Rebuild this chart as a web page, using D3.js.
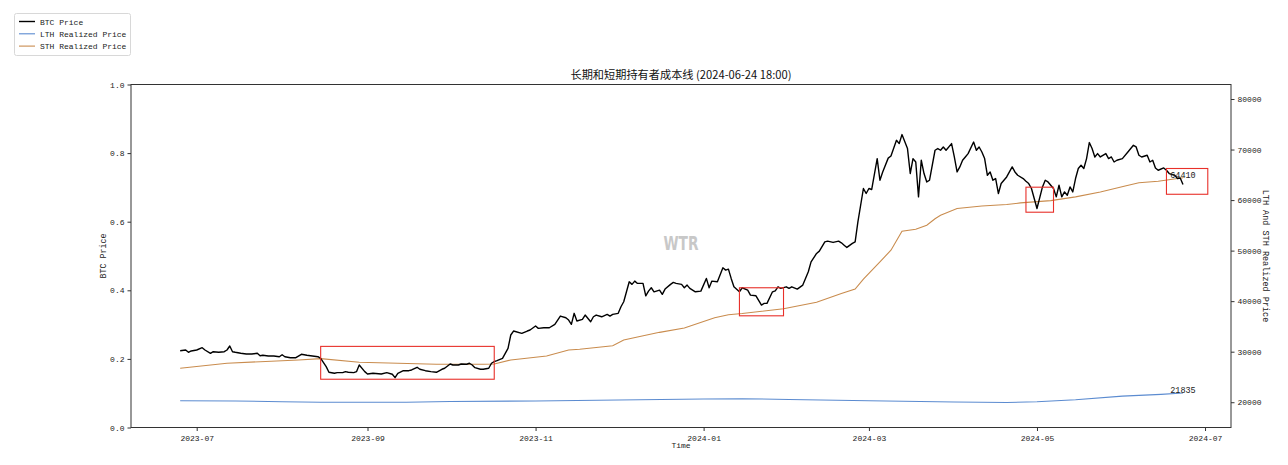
<!DOCTYPE html>
<html><head><meta charset="utf-8">
<script src="https://cdn.jsdelivr.net/npm/d3@7/dist/d3.min.js"></script>
<style>
html,body{margin:0;padding:0;background:#fff;}
svg{display:block;}
.tick text{font-family:"Liberation Mono","DejaVu Sans Mono",monospace;fill:#222;}
</style></head>
<body>
<svg id="chart" width="1288" height="465"></svg>
<script>
// ---------------- data ----------------
const titleText = "长期和短期持有者成本线 (2024-06-24 18:00)";
const seriesNames = ["BTC Price", "LTH Realized Price", "STH Realized Price"];
const leftTicks = [0.0, 0.2, 0.4, 0.6, 0.8, 1.0];
const rightTicks = [20000, 30000, 40000, 50000, 60000, 70000, 80000];

const btcDates = ["2023-06-25","2023-06-27","2023-06-28","2023-06-29","2023-07-01","2023-07-03","2023-07-04","2023-07-06","2023-07-07","2023-07-09","2023-07-11","2023-07-12","2023-07-13","2023-07-14","2023-07-15","2023-07-17","2023-07-19","2023-07-21","2023-07-23","2023-07-24","2023-07-25","2023-07-27","2023-07-29","2023-07-31","2023-08-01","2023-08-02","2023-08-04","2023-08-06","2023-08-08","2023-08-10","2023-08-12","2023-08-14","2023-08-15","2023-08-17","2023-08-18","2023-08-20","2023-08-21","2023-08-23","2023-08-24","2023-08-25","2023-08-27","2023-08-28","2023-08-29","2023-08-31","2023-09-01","2023-09-03","2023-09-06","2023-09-08","2023-09-10","2023-09-11","2023-09-12","2023-09-14","2023-09-16","2023-09-17","2023-09-19","2023-09-20","2023-09-22","2023-09-24","2023-09-26","2023-09-28","2023-09-29","2023-10-01","2023-10-02","2023-10-04","2023-10-05","2023-10-07","2023-10-08","2023-10-09","2023-10-10","2023-10-12","2023-10-13","2023-10-15","2023-10-16","2023-10-17","2023-10-18","2023-10-20","2023-10-21","2023-10-22","2023-10-23","2023-10-24","2023-10-27","2023-10-29","2023-10-30","2023-11-01","2023-11-02","2023-11-04","2023-11-06","2023-11-08","2023-11-10","2023-11-12","2023-11-13","2023-11-14","2023-11-15","2023-11-16","2023-11-18","2023-11-19","2023-11-21","2023-11-22","2023-11-23","2023-11-25","2023-11-27","2023-11-28","2023-11-29","2023-12-01","2023-12-02","2023-12-03","2023-12-04","2023-12-05","2023-12-06","2023-12-07","2023-12-08","2023-12-10","2023-12-11","2023-12-12","2023-12-13","2023-12-14","2023-12-16","2023-12-17","2023-12-18","2023-12-20","2023-12-21","2023-12-22","2023-12-24","2023-12-25","2023-12-26","2023-12-27","2023-12-29","2023-12-31","2024-01-02","2024-01-03","2024-01-04","2024-01-06","2024-01-08","2024-01-09","2024-01-10","2024-01-11","2024-01-12","2024-01-14","2024-01-15","2024-01-17","2024-01-18","2024-01-20","2024-01-22","2024-01-23","2024-01-24","2024-01-26","2024-01-27","2024-01-28","2024-01-29","2024-01-31","2024-02-01","2024-02-02","2024-02-04","2024-02-06","2024-02-08","2024-02-09","2024-02-11","2024-02-12","2024-02-14","2024-02-15","2024-02-17","2024-02-19","2024-02-20","2024-02-21","2024-02-22","2024-02-24","2024-02-25","2024-02-26","2024-02-28","2024-02-29","2024-03-01","2024-03-02","2024-03-04","2024-03-05","2024-03-06","2024-03-08","2024-03-09","2024-03-11","2024-03-12","2024-03-13","2024-03-15","2024-03-16","2024-03-17","2024-03-18","2024-03-19","2024-03-20","2024-03-21","2024-03-22","2024-03-23","2024-03-25","2024-03-26","2024-03-27","2024-03-28","2024-03-29","2024-03-31","2024-04-01","2024-04-02","2024-04-03","2024-04-04","2024-04-05","2024-04-06","2024-04-08","2024-04-09","2024-04-10","2024-04-11","2024-04-12","2024-04-13","2024-04-14","2024-04-15","2024-04-16","2024-04-17","2024-04-18","2024-04-20","2024-04-21","2024-04-22","2024-04-23","2024-04-24","2024-04-26","2024-04-27","2024-04-28","2024-04-29","2024-04-30","2024-05-01","2024-05-03","2024-05-04","2024-05-05","2024-05-07","2024-05-08","2024-05-09","2024-05-10","2024-05-11","2024-05-12","2024-05-13","2024-05-14","2024-05-15","2024-05-16","2024-05-17","2024-05-18","2024-05-19","2024-05-20","2024-05-21","2024-05-22","2024-05-23","2024-05-24","2024-05-26","2024-05-27","2024-05-28","2024-05-29","2024-05-30","2024-06-01","2024-06-03","2024-06-05","2024-06-06","2024-06-07","2024-06-08","2024-06-10","2024-06-11","2024-06-12","2024-06-13","2024-06-14","2024-06-16","2024-06-17","2024-06-18","2024-06-20","2024-06-21","2024-06-22","2024-06-23"];
const btcPrice = [30200,30330,29880,30140,30335,30790,30335,29680,30000,29880,30000,30335,31125,30000,29880,29680,29545,29545,29680,29210,29290,29150,29150,29010,29405,29010,28810,28810,29485,29290,29150,29010,28690,27035,25930,25730,25850,25850,26050,25930,25850,26050,27370,26050,25590,25730,25590,25850,25530,24860,25730,26240,26240,26380,26915,26520,26240,26050,25930,26520,26720,27570,27370,27370,27570,27510,27710,27370,26840,26520,26520,26720,27710,28020,28220,28690,29680,30670,33300,34090,33630,34090,34290,35080,34620,34740,34740,35410,37050,36720,36260,35410,37590,36070,36400,37250,35930,36910,37250,36910,37390,37050,37390,37590,38890,39880,41850,43830,43320,43970,43510,43510,41060,41990,42650,41850,42190,41340,42390,43320,43710,43510,43320,42650,43180,42530,41850,41990,44500,42650,43970,43830,46600,46140,46340,44500,42840,41850,42650,42190,41200,41060,39230,39560,39560,41850,42050,42840,42530,42840,42530,42840,42390,43180,45810,47780,49440,49900,51730,51870,51620,51870,51540,51080,50630,51420,51730,55690,62290,61300,62290,62090,68210,63930,65570,68300,68730,71830,71180,72960,70190,65250,68210,67540,60630,67880,65250,63590,63930,69860,70190,69860,70510,69860,71180,68530,65570,66560,67880,68530,69200,71490,69860,70510,69520,68210,64910,65570,63930,64260,61300,63270,64580,65570,66560,65570,64910,64260,63730,63270,62290,60310,58330,62600,63930,63590,62290,60630,62940,60630,61610,60960,62600,61610,64260,66240,66890,66240,68210,71380,70190,68530,69200,68530,69200,68210,68530,67540,67880,68210,69520,70840,70510,68870,68530,68870,67540,67880,66360,65900,66360,65900,65250,64910,64260,64380,63080];

const sthDates = ["2023-06-25","2023-07-12","2023-07-24","2023-08-07","2023-08-15","2023-08-29","2023-09-26","2023-10-13","2023-10-17","2023-10-23","2023-11-05","2023-11-13","2023-11-17","2023-11-29","2023-12-03","2023-12-08","2023-12-16","2023-12-25","2024-01-05","2024-01-10","2024-01-15","2024-01-30","2024-02-11","2024-02-20","2024-02-25","2024-02-28","2024-03-05","2024-03-09","2024-03-13","2024-03-18","2024-03-22","2024-03-25","2024-03-27","2024-04-02","2024-04-11","2024-04-20","2024-04-25","2024-05-06","2024-05-15","2024-05-24","2024-06-02","2024-06-07","2024-06-14","2024-06-23"];
const sthPrice = [26720,27710,28020,28360,28620,27900,27510,27510,27550,28360,29150,30330,30470,31190,32300,32900,33830,34700,36700,37300,37550,38500,39800,41500,42390,44360,47780,50090,53850,54240,55030,56300,57000,58330,58820,59120,59440,59890,60630,61600,62800,63440,63730,64410];

const lthDates = ["2023-06-25","2023-07-15","2023-08-01","2023-08-15","2023-09-15","2023-10-01","2023-11-01","2023-12-01","2024-01-01","2024-01-15","2024-02-01","2024-03-01","2024-04-01","2024-04-20","2024-05-01","2024-05-15","2024-06-01","2024-06-15","2024-06-23"];
const lthPrice = [20300,20250,20100,20000,20000,20150,20250,20450,20650,20700,20550,20300,20050,19950,20100,20500,21200,21550,21835];

// highlighted boxes: [start date, end date, low, high]
const boxStart = ["2023-08-15","2024-01-14","2024-04-27","2024-06-17"];
const boxEnd   = ["2023-10-17","2024-01-30","2024-05-07","2024-07-02"];
const boxLow   = [24550, 37100, 57600, 61150];
const boxHigh  = [31050, 42650, 62550, 66250];

// ---------------- drawing ----------------
const parse = d3.timeParse("%Y-%m-%d");
const svg = d3.select("#chart");
const L = 131, R = 1231, T = 84.5, B = 427.5;

const xRef = d3.scaleTime().domain([parse("2023-07-01"), parse("2024-07-01")]).range([196.7, 196.7 + 366 * 2.755]);
const x = d3.scaleTime().domain([xRef.invert(L), xRef.invert(R)]).range([L, R]);
const yL = d3.scaleLinear().domain([0, 1]).range([B, T]);
const yR = d3.scaleLinear().domain([15000, 82870]).range([B, T]);

const mono = '"Liberation Mono","DejaVu Sans Mono",monospace';
const axisColor = "#333";

const btc = btcDates.map((d, i) => ({d: parse(d), v: btcPrice[i]}));
const sth = sthDates.map((d, i) => ({d: parse(d), v: sthPrice[i]}));
const lth = lthDates.map((d, i) => ({d: parse(d), v: lthPrice[i]}));

svg.append("defs").append("clipPath").attr("id", "clip")
  .append("rect").attr("x", L).attr("y", T).attr("width", R - L).attr("height", B - T);

const plot = svg.append("g").attr("clip-path", "url(#clip)");
const line = d3.line().x(p => x(p.d)).y(p => yR(p.v));

// watermark
svg.append("text").attr("x", 681).attr("y", 250).attr("text-anchor", "middle")
  .attr("font-family", '"DejaVu Sans",sans-serif').attr("font-weight", "bold")
  .attr("font-size", 19).attr("textLength", 35).attr("lengthAdjust", "spacingAndGlyphs")
  .attr("fill", "#c8c8c8").text("WTR");

plot.append("path").datum(lth).attr("d", line).attr("fill", "none").attr("stroke", "#5b8bd0").attr("stroke-width", 1.1);
plot.append("path").datum(sth).attr("d", line).attr("fill", "none").attr("stroke", "#c98c4e").attr("stroke-width", 1.1);
plot.append("path").datum(btc).attr("d", line).attr("fill", "none").attr("stroke", "#000").attr("stroke-width", 1.4).attr("stroke-linejoin", "round");

// boxes
boxStart.forEach((s, i) => {
  const x0 = x(parse(s)), x1 = x(parse(boxEnd[i]));
  const y0 = yR(boxHigh[i]), y1 = yR(boxLow[i]);
  svg.append("rect").attr("x", x0).attr("y", y0).attr("width", x1 - x0).attr("height", y1 - y0)
    .attr("fill", "none").attr("stroke", "#e8302a").attr("stroke-width", 1.1);
});

// end labels
const lastS = sth[sth.length - 1], lastL = lth[lth.length - 1];
svg.append("text").attr("x", x(lastS.d)).attr("y", yR(lastS.v)).attr("text-anchor", "middle")
  .attr("font-family", mono).attr("font-size", 8.5).attr("fill", "#222").text(lastS.v);
svg.append("text").attr("x", x(lastL.d)).attr("y", yR(lastL.v)).attr("text-anchor", "middle")
  .attr("font-family", mono).attr("font-size", 8.5).attr("fill", "#222").text(lastL.v);

// frame
svg.append("rect").attr("x", L).attr("y", T).attr("width", R - L).attr("height", B - T)
  .attr("fill", "none").attr("stroke", axisColor).attr("stroke-width", 1);

// axes
const gx = svg.append("g").attr("transform", `translate(0,${B})`)
  .call(d3.axisBottom(x).ticks(d3.timeMonth.every(2)).tickFormat(d3.timeFormat("%Y-%m")).tickSize(3.5));
const gl = svg.append("g").attr("transform", `translate(${L},0)`)
  .call(d3.axisLeft(yL).tickValues(leftTicks).tickFormat(d3.format(".1f")).tickSize(3.5));
const gr = svg.append("g").attr("transform", `translate(${R},0)`)
  .call(d3.axisRight(yR).tickValues(rightTicks).tickFormat(d3.format("d")).tickSize(3.5));
[gx, gl, gr].forEach(g => {
  g.select(".domain").remove();
  g.selectAll(".tick line").attr("stroke", axisColor);
  g.selectAll(".tick text").attr("font-size", 8).attr("fill", "#222");
});
gx.selectAll(".tick text").attr("dy", "0.85em");

// axis labels & title
svg.append("text").attr("x", (L + R) / 2).attr("y", 448).attr("text-anchor", "middle")
  .attr("font-family", mono).attr("font-size", 8).attr("fill", "#222").text("Time");
svg.append("text").attr("transform", `translate(106,${(T + B) / 2}) rotate(-90)`).attr("text-anchor", "middle")
  .attr("font-family", mono).attr("font-size", 8.3).attr("fill", "#222").text("BTC Price");
svg.append("text").attr("transform", `translate(1263,${(T + B) / 2}) rotate(90)`).attr("text-anchor", "middle")
  .attr("font-family", mono).attr("font-size", 8.5).attr("fill", "#222").text("LTH And STH Realized Price");
svg.append("text").attr("x", (L + R) / 2).attr("y", 78.5).attr("text-anchor", "middle")
  .attr("font-family", '"Noto Sans CJK SC",sans-serif').attr("font-size", 11.2).attr("fill", "#111").text(titleText);

// legend
const lg = svg.append("g");
lg.append("rect").attr("x", 14.5).attr("y", 13.5).attr("width", 116).attr("height", 42).attr("rx", 2)
  .attr("fill", "#fff").attr("stroke", "#d8d8d8");
const legColors = ["#000", "#5b8bd0", "#c98c4e"];
seriesNames.forEach((n, i) => {
  const yy = 21.5 + i * 12.3;
  lg.append("line").attr("x1", 19).attr("x2", 35).attr("y1", yy).attr("y2", yy)
    .attr("stroke", legColors[i]).attr("stroke-width", i === 0 ? 1.4 : 1.1);
  lg.append("text").attr("x", 40).attr("y", yy + 3).attr("font-family", mono).attr("font-size", 8)
    .attr("fill", "#222").text(n);
});
</script>
</body></html>
